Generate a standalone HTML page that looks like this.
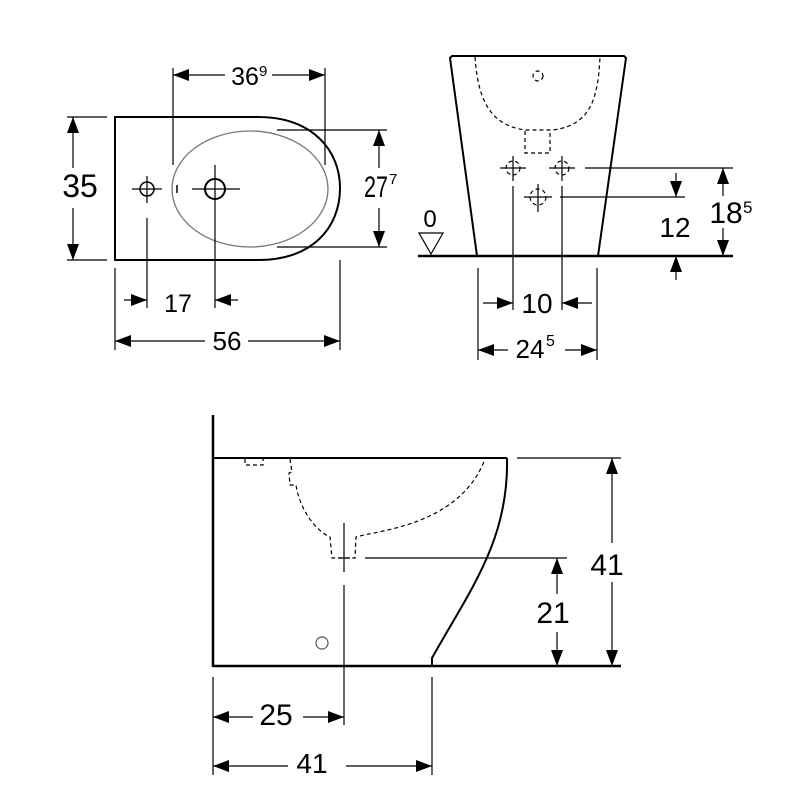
<!DOCTYPE html>
<html><head><meta charset="utf-8"><style>body{margin:0;background:#fff}svg{display:block}text{font-family:"Liberation Sans",sans-serif;fill:#000;text-anchor:middle}text.s{text-anchor:start}</style></head><body>
<svg width="800" height="800" viewBox="0 0 800 800" xmlns="http://www.w3.org/2000/svg">
<defs><marker id="a" markerWidth="16" markerHeight="12" refX="16" refY="6" orient="auto-start-reverse" markerUnits="userSpaceOnUse"><path d="M0,0L16,6L0,12Z"/></marker></defs>
<g fill="none" stroke="#000">
<!-- top view -->
<path d="M115,117 L258,117 C312,117 340,150 340,188 C340,228 312,260 258,260 L115,260 Z" stroke-width="2"/>
<ellipse cx="250" cy="189" rx="78" ry="58" stroke="#777" stroke-width="1.3"/>
<circle cx="147" cy="189" r="7" stroke-width="1.5"/>
<circle cx="215" cy="189" r="10" stroke-width="2"/>
<g stroke-width="1.2">
<line x1="132" y1="189" x2="162" y2="189"/><line x1="147" y1="176" x2="147" y2="203"/><line x1="147" y1="218" x2="147" y2="308"/>
<line x1="192" y1="189" x2="240" y2="189"/><line x1="215" y1="165" x2="215" y2="308"/>
<line x1="173" y1="68" x2="173" y2="165"/><line x1="325" y1="68" x2="325" y2="165"/>
<line x1="67" y1="117" x2="107" y2="117"/><line x1="67" y1="260" x2="107" y2="260"/>
<line x1="277" y1="130" x2="387" y2="130"/><line x1="277" y1="247" x2="387" y2="247"/>
<line x1="115" y1="268" x2="115" y2="350"/><line x1="340" y1="260" x2="340" y2="350"/>
<line x1="173" y1="75" x2="225" y2="75" marker-start="url(#a)"/><line x1="272" y1="75" x2="325" y2="75" marker-end="url(#a)"/>
<line x1="73" y1="117" x2="73" y2="168" marker-start="url(#a)"/><line x1="73" y1="208" x2="73" y2="260" marker-end="url(#a)"/>
<line x1="379" y1="130" x2="379" y2="168" marker-start="url(#a)"/><line x1="379" y1="208" x2="379" y2="247" marker-end="url(#a)"/>
<line x1="124" y1="300" x2="147" y2="300" marker-end="url(#a)"/><line x1="238" y1="300" x2="215" y2="300" marker-end="url(#a)"/>
<line x1="115" y1="341" x2="205" y2="341" marker-start="url(#a)"/><line x1="248" y1="341" x2="340" y2="341" marker-end="url(#a)"/>
</g>
<line x1="177" y1="185" x2="177" y2="193" stroke-width="1.5"/>
<!-- front view -->
<path d="M477,256 L450,58 L452,56 L624,56 L626,58 L598,256" stroke-width="2"/>
<line x1="418" y1="256" x2="733" y2="256" stroke-width="2.5"/>
<g stroke-dasharray="4,3" stroke-width="1.2">
<path d="M475,57 C478,100 490,125 525,130 L553,130 C590,125 598,100 600,57"/>
<path d="M525,131 L525,153 L550,153 L550,131"/>
<circle cx="538" cy="76" r="5"/><circle cx="513" cy="168" r="7"/><circle cx="562" cy="168" r="7"/><circle cx="538" cy="197" r="8"/>
</g>
<g stroke-width="1.2">
<line x1="500" y1="168" x2="526" y2="168"/><line x1="513" y1="156" x2="513" y2="181"/>
<line x1="549" y1="168" x2="575" y2="168"/><line x1="562" y1="156" x2="562" y2="181"/>
<line x1="524" y1="197" x2="552" y2="197"/><line x1="538" y1="184" x2="538" y2="212"/>
<line x1="513" y1="186" x2="513" y2="310"/><line x1="562" y1="186" x2="562" y2="310"/>
<line x1="585" y1="168" x2="733" y2="168"/><line x1="560" y1="197" x2="685" y2="197"/>
<line x1="478" y1="268" x2="478" y2="360"/><line x1="597" y1="268" x2="597" y2="360"/>
<line x1="483" y1="303" x2="513" y2="303" marker-end="url(#a)"/><line x1="592" y1="303" x2="562" y2="303" marker-end="url(#a)"/>
<line x1="478" y1="350" x2="508" y2="350" marker-start="url(#a)"/><line x1="565" y1="350" x2="597" y2="350" marker-end="url(#a)"/>
<line x1="676" y1="173" x2="676" y2="197" marker-end="url(#a)"/><line x1="676" y1="280" x2="676" y2="256" marker-end="url(#a)"/>
<line x1="723" y1="168" x2="723" y2="196" marker-start="url(#a)"/><line x1="723" y1="228" x2="723" y2="256" marker-end="url(#a)"/>
<path d="M419,233 L443,233 L431,254 Z"/>
</g>
<!-- side view -->
<line x1="213" y1="415" x2="213" y2="667" stroke-width="2.5"/>
<line x1="213" y1="458" x2="507" y2="458" stroke-width="2"/>
<line x1="213" y1="666" x2="621" y2="666" stroke-width="2.5"/>
<path d="M507,458 C509,540 470,590 432,658 L432,666" stroke-width="2"/>
<g stroke-dasharray="4,3" stroke-width="1.2">
<path d="M245,459 L245,465 L263,465 L263,459"/>
<path d="M290,459 L292,472 L289,473 L290,485 L296,485 C300,510 315,530 330,537 L332,558 L355,558 L356,537 C380,530 460,525 485,459"/>
</g>
<circle cx="322" cy="643" r="6" stroke="#555" stroke-width="1.2"/>
<g stroke-width="1.2">
<line x1="344" y1="523" x2="344" y2="572"/><line x1="344" y1="585" x2="344" y2="725"/>
<line x1="338" y1="558" x2="350" y2="558"/>
<line x1="365" y1="558" x2="567" y2="558"/><line x1="517" y1="458" x2="621" y2="458"/>
<line x1="213" y1="677" x2="213" y2="775"/><line x1="432" y1="677" x2="432" y2="775"/>
<line x1="557" y1="558" x2="557" y2="594" marker-start="url(#a)"/><line x1="557" y1="632" x2="557" y2="666" marker-end="url(#a)"/>
<line x1="612" y1="458" x2="612" y2="543" marker-start="url(#a)"/><line x1="612" y1="582" x2="612" y2="666" marker-end="url(#a)"/>
<line x1="213" y1="717" x2="253" y2="717" marker-start="url(#a)"/><line x1="303" y1="717" x2="344" y2="717" marker-end="url(#a)"/>
<line x1="213" y1="766" x2="288" y2="766" marker-start="url(#a)"/><line x1="346" y1="766" x2="432" y2="766" marker-end="url(#a)"/>
</g>
</g>
<text x="245" y="85" font-size="25">36</text><text class="s" x="259" y="76" font-size="15">9</text>
<text x="80" y="197" font-size="32">35</text>
<text x="376" y="197" font-size="30" textLength="24" lengthAdjust="spacingAndGlyphs">27</text><text class="s" x="389" y="184" font-size="15">7</text>
<text x="178" y="312" font-size="25">17</text>
<text x="227" y="350" font-size="26">56</text>
<text x="537" y="313" font-size="28">10</text>
<text x="530" y="358" font-size="26">24</text><text class="s" x="546" y="346" font-size="16">5</text>
<text x="675" y="237" font-size="28">12</text>
<text x="726" y="223" font-size="30">18</text><text class="s" x="743" y="213" font-size="17">5</text>
<text x="430" y="227" font-size="24">0</text>
<text x="553" y="623" font-size="30">21</text>
<text x="607" y="575" font-size="30">41</text>
<text x="276" y="725" font-size="30">25</text>
<text x="312" y="773" font-size="28">41</text>
</svg>
</body></html>
